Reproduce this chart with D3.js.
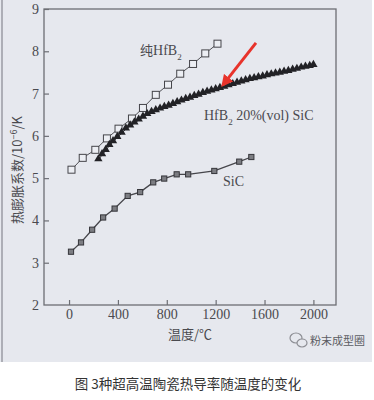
<!DOCTYPE html>
<html>
<head>
<meta charset="utf-8">
<script src="https://cdn.jsdelivr.net/npm/d3@7"></script>
<style>
  body { margin: 0; background: #fff; }
  svg { display: block; }
</style>
</head>
<body>
<script>
var width = 374;
var height = 400;

// 纯HfB2 (open squares)
var hfb2T = [20, 112, 215, 310, 405, 515, 605, 710, 810, 910, 1015, 1115, 1215];
var hfb2V = [5.2, 5.48, 5.67, 5.94, 6.17, 6.41, 6.66, 6.97, 7.21, 7.47, 7.7, 7.95, 8.18];

// HfB2 20%(vol) SiC (filled triangles)
var compT = [240, 270, 300, 330, 360, 395, 430, 465, 500, 535, 570, 605, 640, 675, 710, 745,
    780, 815, 850, 885, 920, 955, 990, 1025, 1060, 1095, 1130, 1165, 1200, 1235, 1270, 1305,
    1340, 1375, 1410, 1445, 1480, 1515, 1550, 1585, 1620, 1655, 1690, 1725, 1760, 1795, 1830,
    1865, 1900, 1935, 1970, 2000];
var compV = [5.43, 5.55, 5.65, 5.77, 5.86, 5.96, 6.06, 6.16, 6.23, 6.3, 6.37, 6.44, 6.5, 6.55,
    6.59, 6.63, 6.67, 6.7, 6.74, 6.78, 6.82, 6.86, 6.89, 6.93, 6.96, 7.0, 7.03, 7.06, 7.09,
    7.12, 7.15, 7.18, 7.21, 7.24, 7.27, 7.3, 7.33, 7.35, 7.37, 7.39, 7.42, 7.44, 7.46, 7.48,
    7.5, 7.52, 7.55, 7.57, 7.6, 7.62, 7.64, 7.66];

// SiC (small dark squares)
var sicT = [16, 98, 189, 279, 373, 480, 582, 689, 779, 881, 975, 1189, 1393, 1492];
var sicV = [3.26, 3.48, 3.78, 4.07, 4.28, 4.58, 4.67, 4.9, 4.99, 5.09, 5.09, 5.17, 5.39, 5.5];

var xTicks = [0, 400, 800, 1200, 1600, 2000];
var yTicks = [2, 3, 4, 5, 6, 7, 8, 9];

var svg = d3.select('body')
    .append('svg')
    .attr('width', width)
    .attr('height', height);

// photographed area
svg.append('rect')
    .attr('x', 0).attr('y', 0)
    .attr('width', 372).attr('height', 362)
    .attr('fill', '#e6e8ee');
svg.append('line')
    .attr('x1', 2).attr('x2', 2).attr('y1', 0).attr('y2', 362)
    .attr('stroke', '#9a9ba3').attr('stroke-width', 1.5);

var plotL = 44, plotR = 336, plotT = 9, plotB = 305;

var x = d3.scaleLinear().domain([-205, 2185]).range([plotL, plotR]);
var y = d3.scaleLinear().domain([2, 9]).range([plotB, plotT]);

var serif = '"Liberation Serif", "Times New Roman", serif';
var ink = '#4a4a4f';

svg.append('rect')
    .attr('x', plotL).attr('y', plotT)
    .attr('width', plotR - plotL).attr('height', plotB - plotT)
    .attr('fill', 'none')
    .attr('stroke', '#6d6e74')
    .attr('stroke-width', 1.3);

var xAxis = svg.append('g')
    .attr('transform', 'translate(0,' + plotB + ')')
    .call(d3.axisBottom(x).tickValues(xTicks).tickFormat(d3.format('d'))
        .tickSizeInner(-5).tickSizeOuter(0).tickPadding(4));
var yAxis = svg.append('g')
    .attr('transform', 'translate(' + plotL + ',0)')
    .call(d3.axisLeft(y).tickValues(yTicks).tickFormat(d3.format('d'))
        .tickSizeInner(-5).tickSizeOuter(0).tickPadding(5));

[xAxis, yAxis].forEach(function (g) {
    g.select('.domain').remove();
    g.selectAll('line').attr('stroke', '#6d6e74').attr('stroke-width', 1.2);
    g.selectAll('text')
        .attr('fill', ink)
        .style('font-family', serif)
        .style('font-size', '14px');
});
yAxis.selectAll('.tick line').filter(function (d) { return d === 2; }).remove();

var line = d3.line()
    .x(function (d) { return x(d[0]); })
    .y(function (d) { return y(d[1]); });

function pairs(ts, vs) {
    return ts.map(function (t, i) { return [t, vs[i]]; });
}

var hfb2 = pairs(hfb2T, hfb2V);
var comp = pairs(compT, compV);
var sic = pairs(sicT, sicV);

svg.append('path').datum(hfb2).attr('d', line)
    .attr('fill', 'none').attr('stroke', '#505055').attr('stroke-width', 1);
svg.append('path').datum(sic).attr('d', line)
    .attr('fill', 'none').attr('stroke', '#46464b').attr('stroke-width', 1.3);
svg.append('path').datum(comp).attr('d', line)
    .attr('fill', 'none').attr('stroke', '#303035').attr('stroke-width', 1);

svg.selectAll('.hfb2').data(hfb2).enter()
    .append('rect')
    .attr('class', 'hfb2')
    .attr('x', function (d) { return x(d[0]) - 3.5; })
    .attr('y', function (d) { return y(d[1]) - 3.5; })
    .attr('width', 7).attr('height', 7)
    .attr('fill', '#eceef3')
    .attr('stroke', '#45454a')
    .attr('stroke-width', 1);

svg.selectAll('.sic').data(sic).enter()
    .append('rect')
    .attr('class', 'sic')
    .attr('x', function (d) { return x(d[0]) - 2.6; })
    .attr('y', function (d) { return y(d[1]) - 2.6; })
    .attr('width', 5.2).attr('height', 5.2)
    .attr('fill', '#7c7d82')
    .attr('stroke', '#35353a')
    .attr('stroke-width', 1);

var tri = d3.symbol().type(d3.symbolTriangle).size(30);
svg.selectAll('.comp').data(comp).enter()
    .append('path')
    .attr('class', 'comp')
    .attr('d', tri)
    .attr('transform', function (d) { return 'translate(' + x(d[0]) + ',' + (y(d[1]) - 1) + ')'; })
    .attr('fill', '#222226');

// series labels
function label(tx, ty, parts) {
    var t = svg.append('text')
        .attr('x', tx).attr('y', ty)
        .attr('fill', ink)
        .style('font-family', serif)
        .style('font-size', '14px');
    parts.forEach(function (p) {
        var s = t.append('tspan').text(p.t);
        if (p.sub) s.attr('baseline-shift', 'sub').style('font-size', '9px');
        if (p.cjk) s.style('font-family', '"Noto Sans CJK SC", sans-serif').style('font-size', '13px');
    });
}
label(140, 55, [{ t: '纯', cjk: true }, { t: 'HfB' }, { t: '2', sub: true }]);
label(204, 120, [{ t: 'HfB' }, { t: '2', sub: true }, { t: '  20%(vol) SiC' }]);
label(223, 186, [{ t: 'SiC' }]);

// red arrow
var arrowFrom = [1530, 8.2];
var arrowTo = [1258, 7.2];
var defs = svg.append('defs');
defs.append('marker')
    .attr('id', 'head')
    .attr('viewBox', '0 0 10 10')
    .attr('refX', 8).attr('refY', 5)
    .attr('markerWidth', 4).attr('markerHeight', 4)
    .attr('orient', 'auto')
    .append('path')
    .attr('d', 'M0,0 L10,5 L0,10 z')
    .attr('fill', '#e8332b');
svg.append('line')
    .attr('x1', x(arrowFrom[0])).attr('y1', y(arrowFrom[1]))
    .attr('x2', x(arrowTo[0])).attr('y2', y(arrowTo[1]))
    .attr('stroke', '#e8332b')
    .attr('stroke-width', 3)
    .attr('marker-end', 'url(#head)');

// axis titles
var ylab = svg.append('text')
    .attr('transform', 'translate(22,170) rotate(-90)')
    .attr('text-anchor', 'middle')
    .attr('fill', ink)
    .style('font-family', '"Noto Sans CJK SC", sans-serif')
    .style('font-size', '13px');
ylab.append('tspan').text('热膨胀系数/10');
ylab.append('tspan').text('−6').attr('dy', -5).style('font-size', '9px');
ylab.append('tspan').text('/K').attr('dy', 5);

svg.append('text')
    .attr('x', 190).attr('y', 339)
    .attr('text-anchor', 'middle')
    .attr('fill', ink)
    .style('font-family', '"Noto Sans CJK SC", sans-serif')
    .style('font-size', '13px')
    .text('温度/℃');

// watermark
var wm = svg.append('g').attr('transform', 'translate(298,340)');
wm.append('ellipse').attr('cx', -2).attr('cy', -2).attr('rx', 6).attr('ry', 5)
    .attr('fill', 'none').attr('stroke', '#8d8e94').attr('stroke-width', 1.2);
wm.append('ellipse').attr('cx', 4).attr('cy', 3).attr('rx', 5).attr('ry', 4)
    .attr('fill', '#e6e8ee').attr('stroke', '#8d8e94').attr('stroke-width', 1.2);
svg.append('text')
    .attr('x', 310).attr('y', 345)
    .attr('fill', '#5c5d63')
    .style('font-family', '"Noto Sans CJK SC", sans-serif')
    .style('font-size', '11px')
    .text('粉末成型圈');

// caption
svg.append('text')
    .attr('x', 188).attr('y', 389)
    .attr('text-anchor', 'middle')
    .attr('fill', '#333')
    .style('font-family', '"Noto Sans CJK SC", sans-serif')
    .style('font-size', '13.5px')
    .text('图 3种超高温陶瓷热导率随温度的变化');
</script>
</body>
</html>
